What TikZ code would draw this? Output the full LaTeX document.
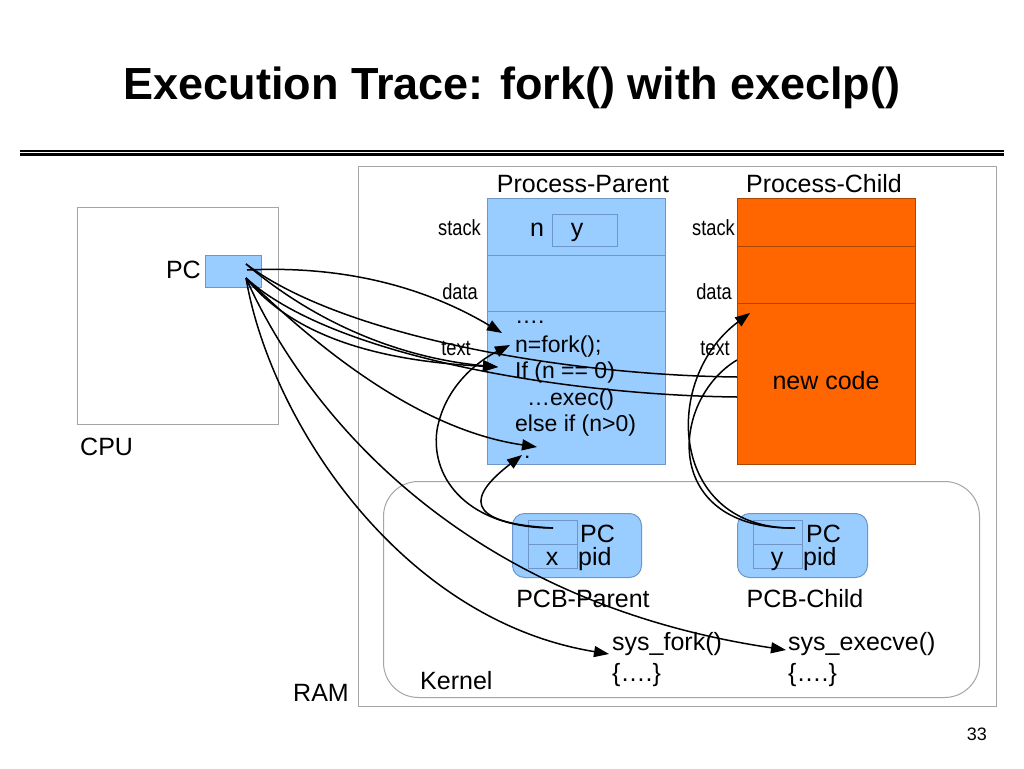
\documentclass[tikz,border=0pt]{standalone}
\usepackage{fontspec}
\setmainfont{Liberation Sans}
\usetikzlibrary{arrows.meta}
\definecolor{lblue}{RGB}{153,204,255}
\definecolor{bedge}{RGB}{110,150,200}
\definecolor{orng}{RGB}{255,102,0}
\definecolor{oedge}{RGB}{170,70,0}
\definecolor{gedge}{RGB}{165,165,165}
\newcommand{\narrowlbl}[1]{\scalebox{0.83}[1]{#1}}
\begin{document}
\begin{tikzpicture}[x=1pt,y=-1pt,
 txt/.style={inner sep=0pt, font=\fontsize{25}{30}\selectfont},
 codetxt/.style={inner sep=0pt, font=\fontsize{23}{28}\selectfont, anchor=base west},
 smalltxt/.style={inner sep=0pt, font=\fontsize{22}{26}\selectfont, anchor=base east},
 grayframe/.style={draw=gedge, line width=1pt, inner sep=0pt, anchor=north west},
 pbox/.style={draw=bedge, fill=lblue, line width=1pt, inner sep=0pt, anchor=north west},
 cbox/.style={draw=oedge, fill=orng, line width=1pt, inner sep=0pt, anchor=north west},
 flow/.style={draw=black, line width=1.5pt, -{Triangle[length=15pt,width=11pt]}},
 wire/.style={draw=black, line width=1.5pt},
]
\useasboundingbox (0,0) rectangle (1024,768);
\fill[white] (0,0) rectangle (1024,768);

% title and rule
\node[inner sep=0pt, anchor=base, font=\fontsize{45}{54}\selectfont\bfseries] (title) at (512,99) {Execution Trace: fork() with execlp()};
\draw[line width=1.2pt] (20,151) -- (1004,151);
\draw[line width=2.2pt] (20,154.5) -- (1004,154.5);

% frames
\node[grayframe, minimum width=201pt, minimum height=217pt] (cpu) at (77,207) {};
\node[grayframe, minimum width=638pt, minimum height=540pt] (ram) at (358,166) {};
\node[grayframe, rounded corners=35pt, minimum width=596pt, minimum height=216pt] (kernel) at (383,481) {};
\node[txt, anchor=base west] (cpul) at (80,455) {CPU};
\node[txt, anchor=base west] (raml) at (293,701) {RAM};
\node[txt, anchor=base west] (kernl) at (420,689) {Kernel};

% CPU PC
\node[pbox, minimum width=56pt, minimum height=32pt] (pc) at (205,255) {};
\node[txt, anchor=base east] (pclbl) at (201,278) {PC};

% parent process
\node[txt, anchor=base] (ppl) at (583,192) {Process-Parent};
\node[pbox, minimum width=178pt, minimum height=266pt] (parent) at (487,198) {};
\draw[draw=bedge, line width=1pt] (487,255) -- (665,255);
\draw[draw=bedge, line width=1pt] (487,311) -- (665,311);
\node[txt, anchor=base west] (nvar) at (530,236) {n};
\node[draw=bedge, line width=1pt, inner sep=0pt, anchor=north west, minimum width=65pt, minimum height=32pt] (nbox) at (552,214) {};
\node[txt, anchor=base] (nval) at (577,236) {y};
\node[smalltxt] (pstack) at (481,235) {\narrowlbl{stack}};
\node[smalltxt] (pdata) at (478,299) {\narrowlbl{data}};
\node[smalltxt] (ptext) at (471,355) {\narrowlbl{text}};
\node[codetxt] (c1) at (515,323) {….};
\node[codetxt] (c2) at (515,352) {n=fork();};
\node[codetxt] (c3) at (515,378) {If (n == 0)};
\node[codetxt] (c4) at (527,405) {…exec()};
\node[codetxt] (c5) at (515,431) {else if (n>0)};
\node[codetxt] (c6) at (524,458) {:};

% child process
\node[txt, anchor=base] (pcl) at (824,192) {Process-Child};
\node[cbox, minimum width=178pt, minimum height=266pt] (child) at (737,198) {};
\draw[draw=oedge, line width=1pt] (737,246) -- (915,246);
\draw[draw=oedge, line width=1pt] (737,303) -- (915,303);
\node[txt, anchor=base] (newc) at (826,389) {new code};
\node[smalltxt] (cstack) at (735,235) {\narrowlbl{stack}};
\node[smalltxt] (cdata) at (732,299) {\narrowlbl{data}};
\node[smalltxt] (ctext) at (730,355) {\narrowlbl{text}};

% PCBs
\node[pbox, rounded corners=12pt, minimum width=129pt, minimum height=64pt] (pcbp) at (512,513) {};
\draw[draw=bedge, line width=1pt] (528,520) rectangle (577,568);
\draw[draw=bedge, line width=1pt] (528,544) -- (577,544);
\node[txt, anchor=base] (pcbpx) at (552,565) {x};
\node[txt, anchor=base west] (pcbppc) at (580,542) {PC};
\node[txt, anchor=base west] (pcbppid) at (578,565) {pid};
\node[txt, anchor=base] (pcbpl) at (583,607) {PCB-Parent};

\node[pbox, rounded corners=12pt, minimum width=130pt, minimum height=64pt] (pcbc) at (737,513) {};
\draw[draw=bedge, line width=1pt] (753,520) rectangle (802,568);
\draw[draw=bedge, line width=1pt] (753,544) -- (802,544);
\node[txt, anchor=base] (pcbcy) at (777,565) {y};
\node[txt, anchor=base west] (pcbcpc) at (806,542) {PC};
\node[txt, anchor=base west] (pcbcpid) at (803,565) {pid};
\node[txt, anchor=base] (pcbcl) at (805,607) {PCB-Child};

% kernel code
\node[txt, anchor=base west] (sf) at (612,650) {sys\_fork()};
\node[txt, anchor=base west] (sfb) at (612,681) {\{….\}};
\node[txt, anchor=base west] (se) at (788,650) {sys\_execve()};
\node[txt, anchor=base west] (seb) at (788,681) {\{….\}};

\node[inner sep=0pt, anchor=base east, font=\fontsize{18}{22}\selectfont] (pgno) at (987,740) {33};

% connector end points
\coordinate (pcA) at (247,270);
\coordinate (pcB) at (246,264);
\coordinate (pcC) at (246,278);
\coordinate (tFork) at (502,333);
\coordinate (tIf) at (498,367);
\coordinate (tNew1) at (737,377);
\coordinate (tNew2) at (737,397);
\coordinate (tElse) at (537,447);
\coordinate (tSysF) at (609,654);
\coordinate (tSysE) at (786,650);
\coordinate (pPC) at (553,528);
\coordinate (tFork2) at (510,345);
\coordinate (tElse2) at (522,455);
\coordinate (cPC) at (795,528);
\coordinate (tChild) at (750,313);
\coordinate (tChildE) at (737,360);

% connectors from CPU PC
\draw[flow] (pcA) .. controls (350,265) and (430,290) .. (tFork);
\draw[flow] (pcB) .. controls (330,335) and (420,360) .. (tIf);
\draw[flow] (pcC) .. controls (300,345) and (400,362) .. (tIf);
\draw[wire] (pcB) .. controls (340,335) and (560,375) .. (tNew1);
\draw[wire] (pcC) .. controls (330,355) and (560,395) .. (tNew2);
\draw[flow] (pcC) .. controls (320,350) and (420,430) .. (tElse);
\draw[flow] (pcC) .. controls (270,420) and (400,620) .. (tSysF);
\draw[flow] (pcC) .. controls (300,400) and (450,600) .. (tSysE);

% connectors from PCB-Parent
\draw[flow] (pPC) .. controls (470,528) and (430,480) .. (437,430) .. controls (445,385) and (480,360) .. (tFork2);
\draw[flow] (pPC) .. controls (460,523) and (470,495) .. (tElse2);

% connectors from PCB-Child
\draw[flow] (cPC) .. controls (670,530) and (660,380) .. (tChild);
\draw[wire] (cPC) .. controls (660,530) and (670,400) .. (tChildE);
\end{tikzpicture}
\end{document}
